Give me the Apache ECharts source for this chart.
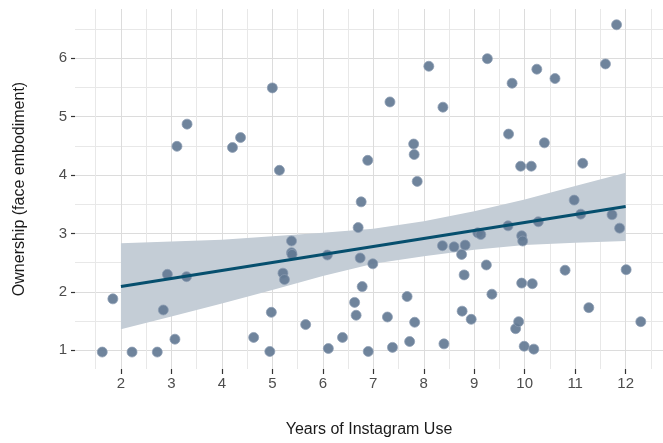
<!DOCTYPE html>
<html>
<head>
<meta charset="utf-8">
<script src="https://cdn.jsdelivr.net/npm/echarts@6/dist/echarts.min.js"></script>
<style>
  html, body { margin: 0; padding: 0; background: #fff; }
</style>
</head>
<body>
<div id="scatterchart" style="width: 663px;height: 443px;"></div>

<script type="text/javascript">
    // years of use, ownership score
    var years = [1.63, 1.84, 2.22, 2.72, 2.84, 2.92, 3.07, 3.11, 3.30, 3.31,
        4.21, 4.37, 4.63, 4.95, 4.98, 5.00, 5.14, 5.21, 5.24, 5.38,
        5.38, 5.39, 5.66, 6.09, 6.11, 6.39, 6.63, 6.66, 6.70, 6.74,
        6.76, 6.78, 6.89, 6.90, 6.99, 7.28, 7.33, 7.38, 7.67, 7.72,
        7.80, 7.81, 7.82, 7.87, 8.10, 8.37, 8.38, 8.40, 8.60, 8.75,
        8.76, 8.80, 8.82, 8.94, 9.07, 9.13, 9.24, 9.26, 9.35, 9.67,
        9.68, 9.75, 9.82, 9.88, 9.92, 9.94, 9.94, 9.96, 9.99, 10.13,
        10.15, 10.18, 10.24, 10.27, 10.39, 10.60, 10.80, 10.98, 11.11, 11.15,
        11.27, 11.60, 11.73, 11.82, 11.88, 12.01, 12.30];
    var ownership = [0.97, 1.88, 0.97, 0.97, 1.69, 2.30, 1.19, 4.49, 2.26, 4.87,
        4.47, 4.64, 1.22, 0.98, 1.65, 5.49, 4.08, 2.32, 2.21, 2.87,
        2.67, 2.64, 1.44, 2.63, 1.03, 1.22, 1.82, 1.60, 3.10, 2.58,
        3.54, 2.09, 4.25, 0.98, 2.48, 1.57, 5.25, 1.05, 1.92, 1.15,
        4.53, 4.35, 1.48, 3.89, 5.86, 2.79, 5.16, 1.11, 2.77, 2.64,
        1.67, 2.29, 2.80, 1.53, 3.01, 2.98, 2.46, 5.99, 1.96, 3.13,
        4.70, 5.57, 1.37, 1.49, 4.15, 2.96, 2.15, 2.87, 1.07, 4.15,
        2.14, 1.02, 5.81, 3.20, 4.55, 5.65, 2.37, 3.57, 3.33, 4.20,
        1.73, 5.90, 3.32, 6.57, 3.09, 2.38, 1.49];

    // fitted line and its confidence band
    var fitX = [2, 12];
    var fitY = [2.09, 3.46];
    var bandX = [2, 3, 4, 5, 6, 7, 8, 9, 10, 11, 12];
    var bandLow = [1.36, 1.58, 1.80, 2.03, 2.27, 2.48, 2.61, 2.72, 2.80, 2.84, 2.87];
    var bandHigh = [2.83, 2.86, 2.89, 2.95, 3.01, 3.08, 3.21, 3.38, 3.58, 3.81, 4.04];

    // tick values
    var xMajor = [2, 3, 4, 5, 6, 7, 8, 9, 10, 11, 12];
    var xMinor = [1.5, 2.5, 3.5, 4.5, 5.5, 6.5, 7.5, 8.5, 9.5, 10.5, 11.5, 12.5];
    var yMajor = [1, 2, 3, 4, 5, 6];
    var yMinor = [1.5, 2.5, 3.5, 4.5, 5.5, 6.5];

    var pts = [];
    for (var i = 0; i < years.length; i++) {
        pts.push([years[i], ownership[i]]);
    }
    var fit = [];
    for (var i = 0; i < fitX.length; i++) {
        fit.push([fitX[i], fitY[i]]);
    }
    var band = [];
    for (var i = 0; i < bandX.length; i++) {
        band.push([bandX[i], bandLow[i], bandHigh[i]]);
    }

    // whole band as one polygon: upper edge forward, lower edge back
    function renderBand(params, api) {
        if (params.dataIndex !== 0) return;
        var poly = [];
        for (var i = 0; i < band.length; i++) {
            poly.push(api.coord([band[i][0], band[i][2]]));
        }
        for (var i = band.length - 1; i >= 0; i--) {
            poly.push(api.coord([band[i][0], band[i][1]]));
        }
        return {
            type: 'polygon',
            shape: {points: poly},
            style: {fill: '#c4cdd6', stroke: null}
        };
    }

    var font = 'Liberation Sans, Arial, sans-serif';
    var xRange = {min: 1.09, max: 12.74};
    var yRange = {min: 0.68, max: 6.84};

    var chart = echarts.init(document.getElementById("scatterchart"));
    var option = {
        animation: false,
        textStyle: {fontFamily: font},
        grid: {left: 75, right: 0, top: 9, bottom: 73, containLabel: false},
        xAxis: [
            {
                type: 'value',
                min: xRange.min, max: xRange.max,
                name: 'Years of Instagram Use',
                nameLocation: 'middle',
                nameGap: 53,
                nameTextStyle: {color: '#1a1a1a', fontSize: 16, fontFamily: font},
                axisLine: {show: false},
                axisTick: {show: true, inside: false, length: 5, customValues: xMajor, lineStyle: {color: '#333', width: 1.2}},
                axisLabel: {customValues: xMajor, color: '#4d4d4d', fontSize: 15, margin: 7, fontFamily: font},
                splitLine: {show: true, lineStyle: {color: '#dcdcdc', width: 1}}
            },
            {
                type: 'value',
                min: xRange.min, max: xRange.max,
                position: 'bottom',
                axisLine: {show: false},
                axisTick: {show: false, customValues: xMinor},
                axisLabel: {show: false},
                splitLine: {show: true, lineStyle: {color: '#e8e8e8', width: 1}}
            }
        ],
        yAxis: [
            {
                type: 'value',
                min: yRange.min, max: yRange.max,
                name: 'Ownership (face embodiment)',
                nameLocation: 'middle',
                nameGap: 47,
                nameTextStyle: {color: '#1a1a1a', fontSize: 16, fontFamily: font},
                axisLine: {show: false},
                axisTick: {show: true, length: 4, customValues: yMajor, lineStyle: {color: '#333', width: 1.2}},
                axisLabel: {customValues: yMajor, color: '#4d4d4d', fontSize: 15, margin: 8, fontFamily: font},
                splitLine: {show: true, lineStyle: {color: '#dcdcdc', width: 1}}
            },
            {
                type: 'value',
                min: yRange.min, max: yRange.max,
                position: 'left',
                axisLine: {show: false},
                axisTick: {show: false, customValues: yMinor},
                axisLabel: {show: false},
                splitLine: {show: true, lineStyle: {color: '#e8e8e8', width: 1}}
            }
        ],
        series: [
            {
                name: 'band',
                type: 'custom',
                data: band,
                encode: {x: 0, y: [1, 2]},
                renderItem: renderBand,
                clip: true,
                z: 2
            },
            {
                name: 'points',
                type: 'scatter',
                data: pts,
                symbolSize: 10,
                itemStyle: {color: '#637994', opacity: 0.92, borderColor: '#8d9db2', borderWidth: 0.8},
                z: 3
            },
            {
                name: 'fit',
                type: 'line',
                data: fit,
                symbol: 'none',
                lineStyle: {color: '#064f6e', width: 3},
                z: 4
            }
        ]
    };
    chart.setOption(option);
</script>
</body>
</html>
